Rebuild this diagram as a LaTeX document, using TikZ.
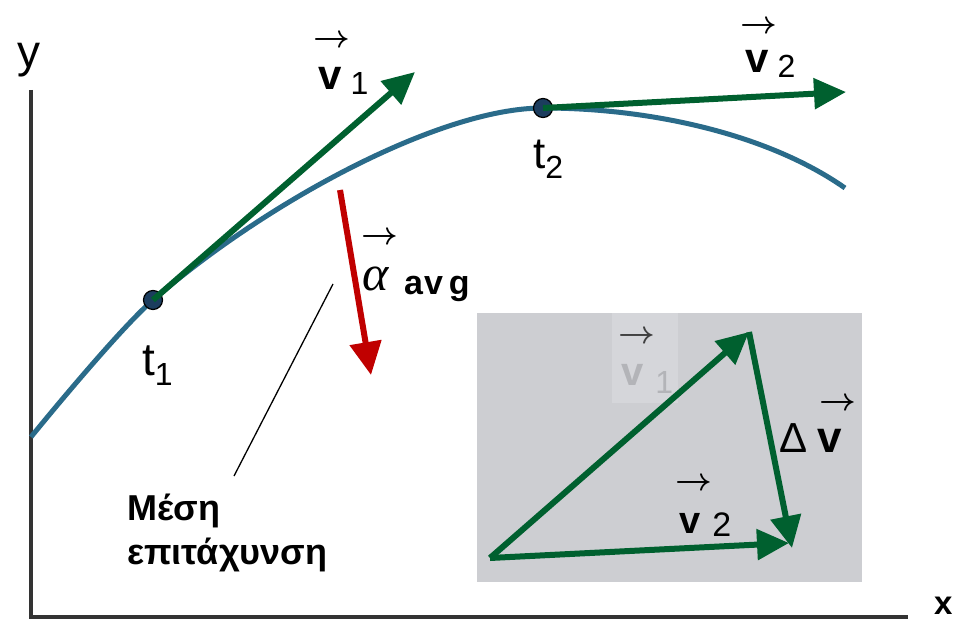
\documentclass[tikz,border=0pt]{standalone}
\usepackage{fix-cm}
\usepackage{fontspec}
\setmainfont{Liberation Sans}
\newfontfamily\greekserif{Liberation Serif}
\usepackage{xcolor}
\definecolor{pathblue}{HTML}{2A6B8A}
\definecolor{vecgreen}{HTML}{00602F}
\definecolor{accred}{HTML}{C00000}
\definecolor{dotnavy}{HTML}{1C3D5E}
\definecolor{axisgray}{HTML}{333333}
\definecolor{insetgray}{HTML}{CDCED2}
\definecolor{fadegray}{HTML}{D5D6DA}
\definecolor{fadetext}{HTML}{B3B4B8}
\usetikzlibrary{positioning, arrows.meta}
\newcommand{\fsz}[1]{\fontsize{#1}{#1}\selectfont}

\begin{document}
\begin{tikzpicture}[x=1pt, y=-1pt,
  axisline/.style={draw=axisgray, line width=4.5pt},
  trajectory/.style={draw=pathblue, line width=5pt},
  vel/.style={draw=vecgreen, line width=6pt, -{Triangle[length=32pt, width=30pt]}},
  acc/.style={draw=accred, line width=6pt, -{Triangle[length=33pt, width=31pt]}},
  dot/.style={circle, fill=dotnavy, draw=black, line width=1.2pt,
              minimum size=19pt, inner sep=0pt},
  lbl/.style={inner sep=0pt, anchor=base west},
  vecmark/.style={inner sep=0pt, font=\fsz{32}\boldmath},
  leader/.style={draw=black, line width=1.3pt}
]
  \useasboundingbox (0,0) rectangle (961,623);

  % axes
  \coordinate (ytop) at (31,90);
  \coordinate (origin) at (31,617);
  \coordinate (xend) at (908,617);
  \draw[axisline] (ytop) -- (origin) -- (xend);
  \node[lbl, font=\fsz{46}] (ylbl) at (17,68) {y};
  \node[lbl, font=\fsz{33}\bfseries] (xlbl) at (934,614) {x};

  % path of the particle
  \coordinate (pstart) at (31,437);
  \coordinate (p1) at (153,300);
  \coordinate (p2) at (543,108);
  \coordinate (pend) at (845,188);
  \draw[trajectory] (pstart) .. controls (57,405) and (123,326) .. (p1)
        .. controls (266,202) and (440,108) .. (p2)
        .. controls (645,108) and (765,132) .. (pend);
  \node[dot] (t1) at (p1) {};
  \node[dot] (t2) at (p2) {};
  \node[lbl, font=\fsz{46}] (t1lbl) at (142,375) {t\raisebox{-10pt}{\fsz{32}1}};
  \node[lbl, font=\fsz{44}] (t2lbl) at (533,168) {t\raisebox{-10pt}{\fsz{32}2}};

  % velocities at t1 and t2
  \coordinate (v1tip) at (415,72);
  \coordinate (v2tip) at (846,92);
  \draw[vel] (t1.center) -- (v1tip);
  \draw[vel] (t2.center) -- (v2tip);
  \node[lbl, font=\fsz{42}\bfseries] (v1lbl) at (318,90) {v\hspace{9pt}\raisebox{-5pt}{\fsz{32}\mdseries 1}};
  \node[vecmark] (v1arr) at (332,41) {$\rightarrow$};
  \node[lbl, font=\fsz{42}\bfseries] (v2lbl) at (745,73) {v\hspace{9pt}\raisebox{-5pt}{\fsz{32}\mdseries 2}};
  \node[vecmark] (v2arr) at (759,27) {$\rightarrow$};

  % average acceleration
  \coordinate (astart) at (340,190);
  \coordinate (atip) at (371,375);
  \draw[acc] (astart) -- (atip);
  \node[lbl, font=\fsz{50}\greekserif\itshape] (alpha) at (362,290) {α};
  \node[lbl, font=\fsz{34}\bfseries] (avg) at (404,294) {a\kern1pt v\kern6pt g};
  \node[vecmark] (aarr) at (380,238) {$\rightarrow$};

  \node[anchor=north west, inner sep=0pt, align=left,
        font=\fontsize{36}{44}\selectfont\bfseries] (mesi) at (127,494)
        {Μέση\\επιτάχυνση};
  \coordinate (leadtop) at (333,284);
  \coordinate (leadbot) at (234,476);
  \draw[leader] (leadtop) -- (leadbot);

  % vector difference
  \fill[insetgray] (477,313) rectangle (862,582);
  \fill[fadegray] (612,313) rectangle (678,403);
  \coordinate (o) at (490,558);
  \coordinate (b1tip) at (749,332);
  \coordinate (dvtip) at (792,548);
  \coordinate (b2tip) at (789,543);
  \draw[vel] (o) -- (b1tip);
  \draw[vel] (b1tip) -- (dvtip);
  \draw[vel] (o) -- (b2tip);
  \node[lbl, font=\fsz{40}\bfseries, text=fadetext] (b1lbl) at (621,385) {v\hspace{12pt}\raisebox{-8pt}{\fsz{32}\mdseries 1}};
  \node[vecmark, text=black!75] (b1arr) at (637,337) {$\rightarrow$};
  \node[lbl, font=\fsz{38}\bfseries] (b2lbl) at (679,533) {v\hspace{12pt}\raisebox{-3pt}{\fsz{34}\mdseries 2}};
  \node[vecmark] (b2arr) at (694,484) {$\rightarrow$};
  \node[lbl, font=\fsz{42}] (dvlbl) at (779,452) {Δ\hspace{10pt}\fsz{44}\bfseries v};
  \node[vecmark] (dvarr) at (838,404) {$\rightarrow$};
\end{tikzpicture}
\end{document}
